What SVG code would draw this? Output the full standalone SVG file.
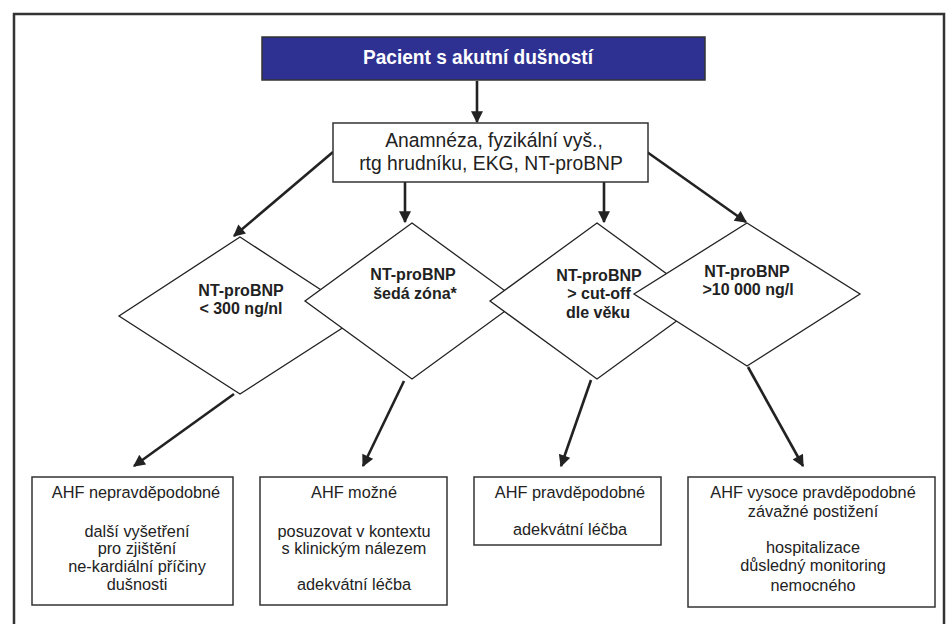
<svg xmlns="http://www.w3.org/2000/svg" width="950" height="624" viewBox="0 0 950 624">
<style>
.box{fill:#fff;stroke:#333;stroke-width:1.5}
.dia{fill:#fff;stroke:#222;stroke-width:1.3}
.t{font-family:"Liberation Sans",Arial,sans-serif;font-size:16.3px;fill:#222;text-anchor:middle}
.tb{font-family:"Liberation Sans",Arial,sans-serif;font-size:16px;font-weight:bold;fill:#222;text-anchor:middle}
.con{stroke:#222;stroke-width:2.6;fill:none;marker-end:url(#ah)}
</style>
<defs>
<marker id="ah" viewBox="0 0 10 10" refX="9" refY="5" markerUnits="userSpaceOnUse" markerWidth="13" markerHeight="12" orient="auto">
<path d="M0,0 L10,5 L0,10 z" fill="#222"/>
</marker>
</defs>
<rect width="950" height="624" fill="#fff"/>
<rect x="14" y="14" width="930" height="630" fill="none" stroke="#333" stroke-width="2.5"/>

<g id="connectors">
<line class="con" x1="477" y1="81" x2="477" y2="122"/>
<line class="con" x1="333" y1="152" x2="234" y2="236"/>
<line class="con" x1="405" y1="182" x2="405" y2="222"/>
<line class="con" x1="604" y1="182" x2="604" y2="222"/>
<line class="con" x1="647" y1="152" x2="746" y2="222"/>
<line class="con" x1="234" y1="394" x2="134" y2="466"/>
<line class="con" x1="404" y1="381" x2="363" y2="466"/>
<line class="con" x1="591" y1="380" x2="561" y2="466"/>
<line class="con" x1="748" y1="367" x2="803" y2="466"/>
</g>

<g id="title">
<rect x="262" y="37" width="443" height="43" fill="#2e3192" stroke="#333" stroke-width="1.5"/>
<text x="478" y="64" font-family="'Liberation Sans',Arial,sans-serif" font-size="20" font-weight="bold" fill="#fff" text-anchor="middle" textLength="230" lengthAdjust="spacingAndGlyphs">Pacient s akutní dušností</text>
</g>

<g id="exam">
<rect class="box" x="333" y="123" width="315" height="59"/>
<text class="t" x="494" y="147" style="font-size:19.3px">Anamnéza, fyzikální vyš.,</text>
<text class="t" x="491" y="170" style="font-size:19.3px">rtg hrudníku, EKG, NT-proBNP</text>
</g>

<g id="d1">
<polygon class="dia" points="240,237 361,316 240,394 119,316"/>
</g>
<g id="d2">
<polygon class="dia" points="412,223 519,301 412,379 305,301"/>
</g>
<g id="d3">
<polygon class="dia" points="597,223 704,301 597,379 490,301"/>
</g>
<g id="d4">
<polygon class="dia" points="747,223 860,294 747,366 634,294"/>
</g>
<g id="d-labels">
<text class="tb" x="241" y="296">NT-proBNP</text>
<text class="tb" x="241" y="314">&lt; 300 ng/nl</text>
<text class="tb" x="413" y="280">NT-proBNP</text>
<text class="tb" x="415" y="299">šedá zóna*</text>
<text class="tb" x="599" y="281">NT-proBNP</text>
<text class="tb" x="599" y="299">&gt; cut-off</text>
<text class="tb" x="598" y="318">dle věku</text>
<text class="tb" x="747" y="277">NT-proBNP</text>
<text class="tb" x="748" y="295">&gt;10 000 ng/l</text>
</g>

<g id="resA">
<rect class="box" x="32" y="477" width="201" height="128"/>
<text class="t" x="136" y="498">AHF nepravděpodobné</text>
<text class="t" x="137" y="537">další vyšetření</text>
<text class="t" x="137" y="554">pro zjištění</text>
<text class="t" x="137" y="572">ne-kardiální příčiny</text>
<text class="t" x="137" y="590">dušnosti</text>
</g>
<g id="resB">
<rect class="box" x="260" y="477" width="187" height="128"/>
<text class="t" x="354" y="498">AHF možné</text>
<text class="t" x="354" y="537">posuzovat v kontextu</text>
<text class="t" x="354" y="554">s klinickým nálezem</text>
<text class="t" x="354" y="590">adekvátní léčba</text>
</g>
<g id="resC">
<rect class="box" x="474" y="477" width="187" height="68"/>
<text class="t" x="570" y="498">AHF pravděpodobné</text>
<text class="t" x="570" y="535">adekvátní léčba</text>
</g>
<g id="resD">
<rect class="box" x="688" y="477" width="247" height="130"/>
<text class="t" x="813" y="498">AHF vysoce pravděpodobné</text>
<text class="t" x="813" y="517">závažné postižení</text>
<text class="t" x="813" y="553">hospitalizace</text>
<text class="t" x="813" y="571">důsledný monitoring</text>
<text class="t" x="813" y="591">nemocného</text>
</g>
</svg>
